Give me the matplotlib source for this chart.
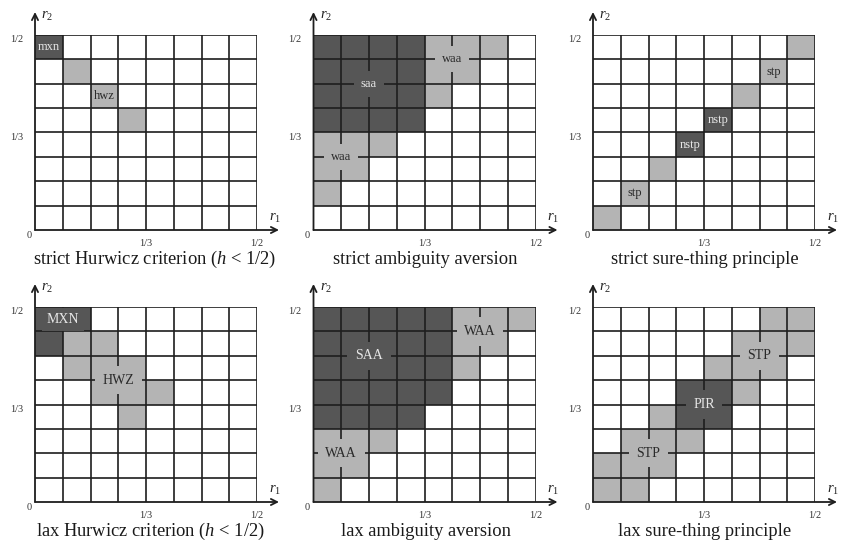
import numpy as np
import matplotlib
matplotlib.use("Agg")
import matplotlib.pyplot as plt
from matplotlib.colors import ListedColormap
from matplotlib.transforms import ScaledTranslation

plt.rcParams['font.family'] = ['Liberation Serif', 'DejaVu Serif']
plt.rcParams['mathtext.fontset'] = 'custom'
plt.rcParams['mathtext.rm'] = 'Liberation Serif'
plt.rcParams['mathtext.it'] = 'Liberation Serif:italic'

# ---- data ----
titles = ["strict Hurwicz criterion ($h$ < 1/2)", "strict ambiguity aversion",
          "strict sure-thing principle", "lax Hurwicz criterion ($h$ < 1/2)",
          "lax ambiguity aversion", "lax sure-thing principle"]

x_ticks = [(4, "1/3"), (8, "1/2")]
y_ticks = [(4, "1/3"), (8, "1/2")]

dark1 = [(0, 7)]
light1 = [(1, 6), (2, 5), (3, 4)]
labels1 = [("mxn", 0.5, 7.5, "d"), ("hwz", 2.5, 5.5, "l")]

dark2 = [(c, r) for r in range(4, 8) for c in range(0, 4)]
light2 = [(4, 7), (5, 7), (6, 7), (4, 6), (5, 6), (4, 5),
          (0, 3), (1, 3), (2, 3), (0, 2), (1, 2), (0, 1)]
labels2 = [("saa", 2, 6, "d"), ("waa", 5, 7, "l"), ("waa", 1, 3, "l")]

dark3 = [(3, 3), (4, 4)]
light3 = [(0, 0), (1, 1), (2, 2), (5, 5), (6, 6), (7, 7)]
labels3 = [("stp", 1.5, 1.5, "l"), ("nstp", 3.5, 3.5, "d"),
           ("nstp", 4.5, 4.5, "d"), ("stp", 6.5, 6.5, "l")]

dark4 = [(0, 7), (1, 7), (0, 6)]
light4 = [(1, 6), (2, 6), (1, 5), (2, 5), (3, 5), (2, 4), (3, 4), (4, 4), (3, 3)]
labels4 = [("MXN", 1, 7.5, "d"), ("HWZ", 3, 5, "l")]

dark5 = [(c, r) for r in range(4, 8) for c in range(0, 5)] + [(c, 3) for c in range(0, 4)]
light5 = [(5, 7), (6, 7), (7, 7), (5, 6), (6, 6), (5, 5),
          (0, 2), (1, 2), (2, 2), (0, 1), (1, 1), (0, 0)]
labels5 = [("SAA", 2, 6, "d"), ("WAA", 6, 7, "l"), ("WAA", 1, 2, "l")]

dark6 = [(3, 3), (4, 3), (3, 4), (4, 4)]
light6 = [(0, 0), (1, 0), (0, 1), (1, 1), (2, 1), (1, 2), (2, 2), (3, 2), (2, 3),
          (5, 4), (4, 5), (5, 5), (6, 5), (5, 6), (6, 6), (7, 6), (6, 7), (7, 7)]
labels6 = [("STP", 2, 2, "l"), ("PIR", 4, 4, "d"), ("STP", 6, 6, "l")]

panels = [(dark1, light1, labels1), (dark2, light2, labels2), (dark3, light3, labels3),
          (dark4, light4, labels4), (dark5, light5, labels5), (dark6, light6, labels6)]

# ---- style ----
W, H = 844, 547
DARK = "#565656"
LIGHT = "#b4b4b4"
LINE = "#1e1e1e"
lefts = [35, 313.5, 593]
tops = [35, 307]
gw, gh = 222, 195
title_dx = [9, 1, 1, 4, 1, 1]

fig = plt.figure(figsize=(W / 100, H / 100), dpi=100)
cmap = ListedColormap(["white", LIGHT, DARK])


def off(ax, dx, dy):
    return ax.transData + ScaledTranslation(dx / 100, dy / 100, fig.dpi_scale_trans)


for i, (dark, light, labels) in enumerate(panels):
    row, col = divmod(i, 3)
    l, t = lefts[col], tops[row]
    ax = fig.add_axes([l / W, 1 - (t + gh) / H, gw / W, gh / H])
    ax.set_xlim(0, 8)
    ax.set_ylim(0, 8)
    ax.axis("off")
    grid = np.zeros((8, 8))
    for c, r in light:
        grid[r, c] = 1
    for c, r in dark:
        grid[r, c] = 2
    ax.pcolormesh(np.arange(9), np.arange(9), grid, cmap=cmap, vmin=0, vmax=2, zorder=1)
    ax.vlines(np.arange(1, 9), 0, 8, color=LINE, lw=1.2, zorder=2)
    ax.hlines(np.arange(1, 9), 0, 8, color=LINE, lw=1.2, zorder=2)
    # axes arrows
    ax.annotate("", xy=(8 + 22 / (gw / 8), 0), xytext=(0, 0), annotation_clip=False,
                arrowprops=dict(arrowstyle="->", lw=1.3, color=LINE, mutation_scale=11,
                                shrinkA=0, shrinkB=0), zorder=4)
    ax.annotate("", xy=(0, 8 + 23 / (gh / 8)), xytext=(0, 0), annotation_clip=False,
                arrowprops=dict(arrowstyle="->", lw=1.3, color=LINE, mutation_scale=11,
                                shrinkA=0, shrinkB=0), zorder=4)
    ax.text(0, 8, "$r_2$", transform=off(ax, 6, 19), fontsize=10.5, ha="left", va="center",
            color="#222")
    ax.text(8, 0, "$r_1$", transform=off(ax, 18, 12), fontsize=10.5, ha="center", va="center",
            color="#222")
    # tick labels
    for v, s in y_ticks:
        ax.text(0, v, s, transform=off(ax, -12, -5), fontsize=7.5, ha="right", va="center",
                color="#333")
    for v, s in x_ticks:
        ax.text(v, 0, s, transform=off(ax, 0, -13), fontsize=7.5, ha="center", va="center",
                color="#333")
    ax.text(0, 0, "0", transform=off(ax, -6, -5), fontsize=7.5, ha="center", va="center",
            color="#333")
    # region labels
    for s, x, y, kind in labels:
        fc = DARK if kind == "d" else LIGHT
        tc = "#e6e6e6" if kind == "d" else "#2a2a2a"
        fs = 10 if s.isupper() else 9
        in_cell = (x % 1) != 0 and (y % 1) != 0
        if in_cell:
            ax.text(x, y, s, fontsize=fs, ha="center", va="center", color=tc, zorder=3)
        else:
            pad = 0.35 if (y % 1) != 0 else 0.55
            ax.text(x, y, s, fontsize=fs, ha="center", va="center", color=tc, zorder=3,
                    bbox=dict(boxstyle=f"square,pad={pad}", fc=fc, ec="none"))
    # title
    ax.text(4, 0, titles[i], transform=off(ax, title_dx[i], -34), fontsize=13.3,
            ha="center", va="baseline", color="#1a1a1a")

fig.savefig("out.png", dpi=100)
